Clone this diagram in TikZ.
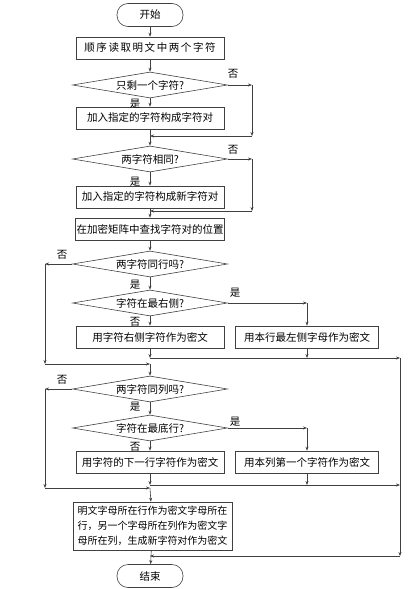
\documentclass[tikz,border=0pt]{standalone}
\usepackage{fontspec}
\newfontfamily\cjk{Noto Sans CJK SC}
\usetikzlibrary{shapes.geometric,arrows.meta}
\begin{document}
\begin{tikzpicture}[x=1pt,y=-1pt,line width=0.6pt,
	txt/.style={font=\cjk\fontsize{10.5}{12.5}\selectfont},
	box/.style={txt,draw=black!75,minimum width=148pt,minimum height=22pt,inner sep=1pt},
	term/.style={txt,draw=black!75,rounded corners=11pt,minimum width=66pt,minimum height=23pt},
	test/.style={txt,draw=black!75,diamond,aspect=6,inner sep=0pt,minimum width=155pt,minimum height=26pt},
	lab/.style={txt,inner sep=0pt},
	arr/.style={draw=black!75,-{Stealth[length=4pt,width=3pt]}}]
	\useasboundingbox (0,0) rectangle (412,589);
	% boxes
	\node[term] (start) at (150,15) {开始};
	\node[box] (read) at (150,48) {\addfontfeature{LetterSpace=15}顺序读取明文中两个字符};
	\node[test] (one) at (150,85) {只剩一个字符?};
	\node[box] (padone) at (150,118) {加入指定的字符构成字符对};
	\node[test] (same) at (150,159) {两字符相同?};
	\node[box] (padsame) at (150,197) {加入指定的字符构成新字符对};
	\node[box] (find) at (150,229) {在加密矩阵中查找字符对的位置};
	\node[test] (row) at (150,264) {两字符同行吗?};
	\node[test] (right) at (150,303) {字符在最右侧?};
	\node[box] (rnext) at (150,337) {用字符右侧字符作为密文};
	\node[box,minimum width=143pt] (rfirst) at (307,337) {用本行最左侧字母作为密文};
	\node[test] (col) at (150,389) {两字符同列吗?};
	\node[test] (bottom) at (150,428) {字符在最底行?};
	\node[box] (cnext) at (150,462) {用字符的下一行字符作为密文};
	\node[box,minimum width=143pt] (cfirst) at (307,462) {用本列第一个字符作为密文};
	\node[box,minimum width=159pt,minimum height=48pt,align=left,font=\cjk\fontsize{10}{15}\selectfont] (rect) at (152.5,526)
		{明文字母所在行作为密文字母所在\\行，另一个字母所在列作为密文字\\母所在列，生成新字符对作为密文};
	\node[term] (stop) at (150,576) {结束};
	% corners
	\coordinate (a1) at (252,85); \coordinate (a2) at (252,136); \coordinate (m1) at (150,136);
	\coordinate (b1) at (252,159); \coordinate (b2) at (252,211); \coordinate (m2) at (150,211);
	\coordinate (r1) at (307,303); \coordinate (c1) at (307,428);
	\coordinate (j1) at (150,358); \coordinate (j1r) at (307,358); \coordinate (j1e) at (400,358);
	\coordinate (l1) at (45,264); \coordinate (l2) at (45,364); \coordinate (m3) at (150,364);
	\coordinate (j2) at (150,485); \coordinate (j2r) at (307,485); \coordinate (j2e) at (400,485);
	\coordinate (l3) at (45,389); \coordinate (l4) at (45,488); \coordinate (m4) at (150,488);
	\coordinate (e1) at (400,556); \coordinate (m5) at (150,556);
	% main line
	\draw[arr] (start) -- (read);
	\draw[arr] (read) -- (one);
	\draw[arr] (one) -- (padone);
	\draw[arr] (padone) -- (same);
	\draw[arr] (same) -- (padsame);
	\draw[arr] (padsame) -- (find);
	\draw[arr] (find) -- (row);
	\draw[arr] (row) -- (right);
	\draw[arr] (right) -- (rnext);
	\draw[arr] (m3) -- (col);
	\draw[arr] (col) -- (bottom);
	\draw[arr] (bottom) -- (cnext);
	\draw[arr] (m4) -- (rect);
	\draw[arr] (rect) -- (stop);
	% side lines
	\draw[arr] (one.east) -- (a1); \draw[arr] (a1) -- (a2); \draw[arr] (a2) -- (m1);
	\draw[arr] (same.east) -- (b1); \draw[arr] (b1) -- (b2); \draw[arr] (b2) -- (m2);
	\draw[arr] (right.east) -- (r1); \draw[arr] (r1) -- (rfirst);
	\draw[arr] (bottom.east) -- (c1); \draw[arr] (c1) -- (cfirst);
	\draw[arr] (rnext) -- (j1); \draw[arr] (rfirst) -- (j1r); \draw[arr] (j1) -- (j1e);
	\draw[arr] (cnext) -- (j2); \draw[arr] (cfirst) -- (j2r); \draw[arr] (j2) -- (j2e);
	\draw[arr] (j1e) -- (e1); \draw[arr] (e1) -- (m5);
	\draw[arr] (row.west) -- (l1); \draw[arr] (l1) -- (l2); \draw[arr] (l2) -- (m3);
	\draw[arr] (col.west) -- (l3); \draw[arr] (l3) -- (l4); \draw[arr] (l4) -- (m4);
	% labels
	\node[lab] (n1) at (233,74) {否}; \node[lab] (y1) at (135,104) {是};
	\node[lab] (n2) at (233,150) {否}; \node[lab] (y2) at (135,182) {是};
	\node[lab] (n3) at (62,255) {否}; \node[lab] (y3) at (135,285) {是};
	\node[lab] (y4) at (235,293) {是}; \node[lab] (n4) at (135,322) {否};
	\node[lab] (n5) at (62,380) {否}; \node[lab] (y5) at (135,407) {是};
	\node[lab] (y6) at (235,422) {是}; \node[lab] (n6) at (135,447) {否};
\end{tikzpicture}
\end{document}
